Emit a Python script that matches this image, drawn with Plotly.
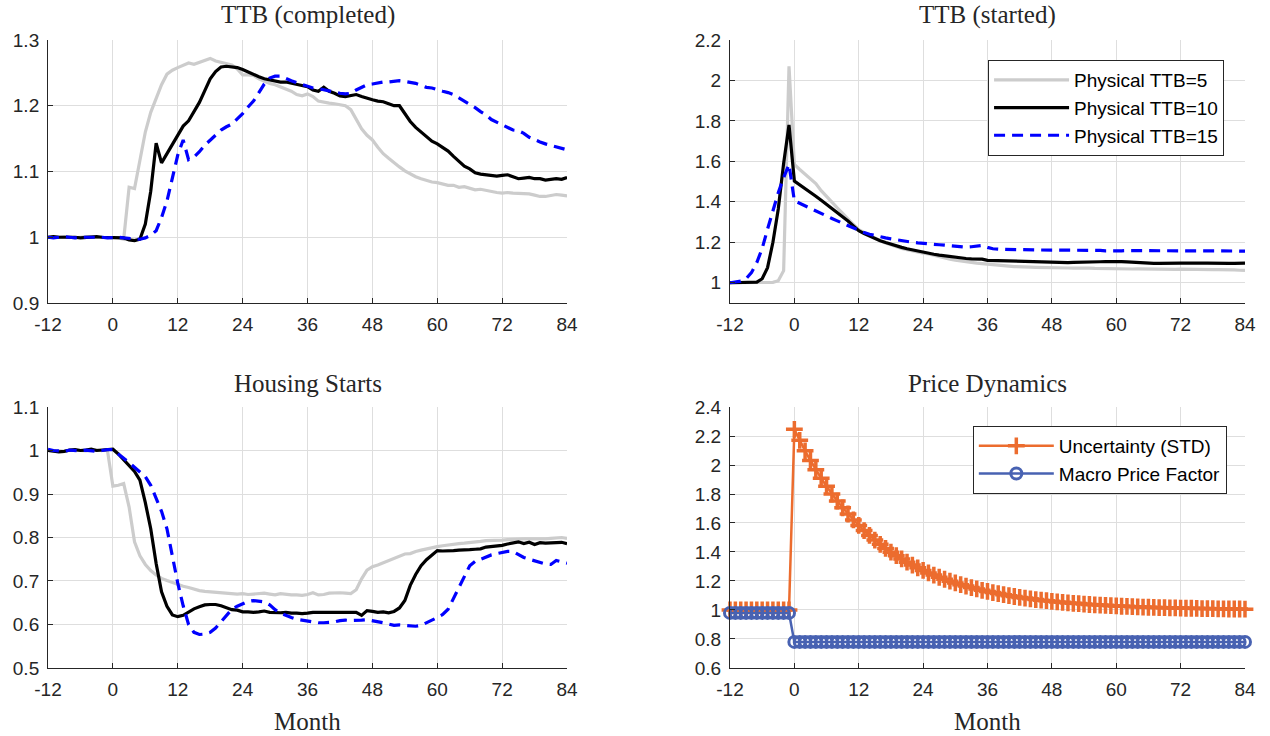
import plotly.graph_objects as go

months = list(range(-12, 85))
x_tick_vals = [-12, 0, 12, 24, 36, 48, 60, 72, 84]
x_tick_text = ["-12", "0", "12", "24", "36", "48", "60", "72", "84"]

# ---- TTB (completed) ----
ttb5_completed = [
    1.000, 1.001, 1.000, 1.001, 1.000, 0.999, 1.000, 1.001, 1.000, 1.000, 0.999, 1.000,
    1.000, 0.999, 0.997, 1.076, 1.074, 1.120, 1.160, 1.190, 1.210, 1.232, 1.248, 1.254,
    1.258, 1.261, 1.265, 1.263, 1.266, 1.269, 1.272, 1.268, 1.266, 1.264, 1.262, 1.256,
    1.247, 1.247, 1.246, 1.241, 1.237, 1.234, 1.232, 1.229, 1.226, 1.222, 1.217, 1.215,
    1.218, 1.214, 1.207, 1.205, 1.204, 1.203, 1.202, 1.200, 1.194, 1.180, 1.165, 1.155,
    1.148, 1.137, 1.127, 1.120, 1.113, 1.107, 1.101, 1.096, 1.092, 1.089, 1.086, 1.084,
    1.083, 1.081, 1.079, 1.079, 1.076, 1.077, 1.074, 1.072, 1.073, 1.071, 1.070, 1.068,
    1.067, 1.068, 1.067, 1.067, 1.066, 1.066, 1.064, 1.062, 1.062, 1.064, 1.065, 1.064,
    1.063]
ttb10_completed = [
    1.000, 1.001, 1.000, 1.000, 1.001, 1.000, 0.999, 1.000, 1.000, 1.001, 1.000, 1.000,
    1.000, 1.000, 0.999, 0.996, 0.995, 0.997, 1.020, 1.070, 1.143, 1.113, 1.127, 1.142,
    1.157, 1.169, 1.177, 1.190, 1.205, 1.223, 1.241, 1.252, 1.259, 1.260, 1.259, 1.258,
    1.255, 1.251, 1.247, 1.244, 1.241, 1.239, 1.237, 1.236, 1.236, 1.234, 1.233, 1.231,
    1.229, 1.224, 1.222, 1.228, 1.222, 1.219, 1.215, 1.214, 1.216, 1.217, 1.214, 1.211,
    1.209, 1.207, 1.206, 1.203, 1.200, 1.200, 1.188, 1.176, 1.167, 1.160, 1.153, 1.146,
    1.142, 1.136, 1.131, 1.123, 1.115, 1.108, 1.104, 1.098, 1.096, 1.095, 1.093, 1.093,
    1.094, 1.095, 1.092, 1.089, 1.090, 1.091, 1.089, 1.089, 1.087, 1.088, 1.089, 1.088,
    1.091]
ttb15_completed = [
    1.000, 0.999, 1.000, 1.001, 1.000, 0.999, 1.000, 1.000, 1.001, 1.000, 1.000, 0.999,
    1.000, 1.000, 0.999, 0.998, 0.997, 0.997, 0.999, 1.003, 1.010, 1.030, 1.055, 1.090,
    1.125, 1.148, 1.118, 1.122, 1.130, 1.140, 1.148, 1.155, 1.163, 1.168, 1.172, 1.180,
    1.188, 1.198, 1.207, 1.220, 1.233, 1.242, 1.245, 1.245, 1.241, 1.238, 1.235, 1.232,
    1.229, 1.227, 1.226, 1.224, 1.223, 1.221, 1.219, 1.218, 1.219, 1.224, 1.228, 1.232,
    1.233, 1.235, 1.236, 1.236, 1.237, 1.238, 1.237, 1.236, 1.234, 1.231, 1.228, 1.227,
    1.224, 1.222, 1.220, 1.217, 1.212, 1.207, 1.203, 1.197, 1.191, 1.186, 1.179, 1.175,
    1.171, 1.167, 1.163, 1.162, 1.158, 1.152, 1.148, 1.145, 1.142, 1.140, 1.137, 1.135,
    1.133]

# ---- TTB (started) ----
ttb5_started = [
    1.000, 1.000, 1.000, 1.000, 1.000, 1.000, 1.001, 1.000, 1.002, 1.010, 1.060, 2.070,
    1.585, 1.560, 1.536, 1.515, 1.490, 1.455, 1.425, 1.395, 1.370, 1.343, 1.318, 1.288,
    1.262, 1.248, 1.232, 1.220, 1.208, 1.197, 1.187, 1.178, 1.170, 1.163, 1.157, 1.150,
    1.146, 1.143, 1.136, 1.128, 1.121, 1.117, 1.112, 1.107, 1.105, 1.101, 1.097, 1.094,
    1.093, 1.089, 1.086, 1.084, 1.082, 1.080, 1.080, 1.078, 1.077, 1.076, 1.076, 1.075,
    1.074, 1.074, 1.073, 1.073, 1.072, 1.073, 1.072, 1.072, 1.071, 1.070, 1.071, 1.070,
    1.070, 1.069, 1.069, 1.068, 1.069, 1.068, 1.068, 1.067, 1.066, 1.067, 1.067, 1.066,
    1.067, 1.066, 1.066, 1.067, 1.066, 1.066, 1.065, 1.065, 1.066, 1.065, 1.064, 1.062,
    1.061]
ttb10_started = [
    1.000, 1.000, 1.000, 1.000, 1.001, 1.003, 1.020, 1.075, 1.200, 1.365, 1.590, 1.780,
    1.503, 1.485, 1.468, 1.448, 1.428, 1.408, 1.388, 1.368, 1.348, 1.327, 1.305, 1.281,
    1.257, 1.243, 1.230, 1.219, 1.208, 1.199, 1.190, 1.182, 1.175, 1.168, 1.162, 1.157,
    1.151, 1.146, 1.141, 1.137, 1.133, 1.130, 1.127, 1.123, 1.120, 1.118, 1.118, 1.117,
    1.111, 1.110, 1.109, 1.108, 1.107, 1.107, 1.106, 1.105, 1.104, 1.103, 1.102, 1.101,
    1.100, 1.099, 1.099, 1.100, 1.101, 1.101, 1.102, 1.102, 1.103, 1.104, 1.105, 1.106,
    1.107, 1.105, 1.103, 1.101, 1.099, 1.098, 1.097, 1.096, 1.096, 1.097, 1.097, 1.096,
    1.097, 1.097, 1.096, 1.096, 1.097, 1.097, 1.096, 1.097, 1.097, 1.096, 1.096, 1.097,
    1.097]
ttb15_started = [
    1.000, 1.003, 1.008, 1.020, 1.050, 1.100, 1.170, 1.265, 1.355, 1.445, 1.520, 1.585,
    1.405, 1.392, 1.380, 1.368, 1.355, 1.342, 1.330, 1.318, 1.306, 1.294, 1.281, 1.268,
    1.257, 1.248, 1.240, 1.233, 1.228, 1.222, 1.217, 1.212, 1.207, 1.203, 1.200, 1.197,
    1.194, 1.192, 1.190, 1.188, 1.186, 1.184, 1.181, 1.178, 1.176, 1.178, 1.183, 1.184,
    1.175, 1.168, 1.166, 1.165, 1.164, 1.164, 1.163, 1.163, 1.163, 1.162, 1.162, 1.162,
    1.162, 1.161, 1.161, 1.161, 1.160, 1.159, 1.159, 1.160, 1.161, 1.160, 1.158, 1.157,
    1.157, 1.158, 1.159, 1.159, 1.159, 1.159, 1.159, 1.159, 1.159, 1.160, 1.159, 1.159,
    1.159, 1.159, 1.159, 1.159, 1.159, 1.158, 1.158, 1.158, 1.157, 1.157, 1.157, 1.156,
    1.156]

# ---- Housing Starts ----
hs5 = [
    1.000, 0.999, 1.000, 0.998, 1.000, 1.001, 1.000, 0.999, 1.000, 1.001, 1.000, 1.000,
    0.918, 0.920, 0.924, 0.870, 0.790, 0.758, 0.738, 0.724, 0.714, 0.706, 0.701, 0.696,
    0.692, 0.688, 0.685, 0.681, 0.678, 0.676, 0.675, 0.675, 0.674, 0.672, 0.671, 0.670,
    0.671, 0.669, 0.670, 0.671, 0.672, 0.670, 0.668, 0.671, 0.669, 0.668, 0.668, 0.667,
    0.669, 0.673, 0.668, 0.669, 0.672, 0.673, 0.673, 0.672, 0.671, 0.680, 0.705, 0.725,
    0.733, 0.737, 0.742, 0.746, 0.752, 0.757, 0.762, 0.763, 0.768, 0.771, 0.774, 0.777,
    0.779, 0.781, 0.783, 0.785, 0.786, 0.787, 0.788, 0.790, 0.791, 0.793, 0.793, 0.794,
    0.794, 0.795, 0.796, 0.797, 0.797, 0.797, 0.797, 0.796, 0.797, 0.798, 0.799, 0.800,
    0.798]
hs10 = [
    1.000, 0.998, 0.997, 0.998, 1.001, 1.002, 1.000, 1.001, 1.003, 1.000, 1.001, 1.002,
    1.003, 0.992, 0.978, 0.966, 0.952, 0.932, 0.880, 0.820, 0.740, 0.675, 0.642, 0.622,
    0.618, 0.621, 0.629, 0.636, 0.641, 0.645, 0.646, 0.646, 0.643, 0.638, 0.634, 0.633,
    0.629, 0.629, 0.628, 0.629, 0.631, 0.628, 0.627, 0.627, 0.628, 0.626, 0.626, 0.625,
    0.626, 0.628, 0.628, 0.628, 0.628, 0.628, 0.628, 0.627, 0.628, 0.628, 0.621, 0.632,
    0.630, 0.628, 0.629, 0.627, 0.630, 0.638, 0.655, 0.690, 0.715, 0.735, 0.749, 0.760,
    0.770, 0.769, 0.769, 0.770, 0.771, 0.771, 0.772, 0.773, 0.774, 0.778, 0.779, 0.780,
    0.782, 0.785, 0.788, 0.790, 0.786, 0.789, 0.784, 0.788, 0.787, 0.788, 0.789, 0.789,
    0.786]
hs15 = [
    1.003, 1.000, 0.999, 0.998, 1.001, 1.000, 0.999, 1.001, 1.000, 0.998, 1.000, 1.002,
    1.002, 0.993, 0.982, 0.972, 0.962, 0.952, 0.940, 0.920, 0.890, 0.860, 0.820, 0.756,
    0.695, 0.643, 0.600, 0.582, 0.577, 0.578, 0.582, 0.592, 0.607, 0.622, 0.635, 0.642,
    0.648, 0.653, 0.655, 0.654, 0.652, 0.645, 0.634, 0.626, 0.620, 0.616, 0.612, 0.610,
    0.608, 0.605, 0.604, 0.604, 0.605, 0.606, 0.609, 0.610, 0.609, 0.609, 0.610, 0.611,
    0.609, 0.607, 0.604, 0.601, 0.598, 0.599, 0.598, 0.597, 0.596, 0.598, 0.603, 0.610,
    0.616, 0.623, 0.635, 0.660, 0.685, 0.710, 0.735, 0.745, 0.750, 0.756, 0.760, 0.763,
    0.765, 0.768, 0.768, 0.760, 0.754, 0.750, 0.746, 0.742, 0.739, 0.738, 0.747, 0.744,
    0.741]

# ---- Price Dynamics ----
uncertainty_std = [
    1.000, 1.000, 1.000, 1.000, 1.000, 1.000, 1.000, 1.000, 1.000, 1.000, 1.000, 1.000,
    2.246, 2.170, 2.098, 2.031, 1.968, 1.908, 1.853, 1.800, 1.751, 1.705, 1.662, 1.621,
    1.583, 1.548, 1.514, 1.482, 1.453, 1.425, 1.399, 1.375, 1.352, 1.330, 1.310, 1.291,
    1.273, 1.256, 1.241, 1.226, 1.212, 1.199, 1.187, 1.175, 1.165, 1.155, 1.145, 1.136,
    1.128, 1.120, 1.113, 1.106, 1.099, 1.093, 1.087, 1.082, 1.077, 1.072, 1.068, 1.064,
    1.060, 1.056, 1.053, 1.049, 1.046, 1.044, 1.041, 1.038, 1.036, 1.034, 1.032, 1.030,
    1.028, 1.026, 1.025, 1.023, 1.022, 1.020, 1.019, 1.018, 1.017, 1.016, 1.015, 1.014,
    1.013, 1.012, 1.012, 1.011, 1.010, 1.010, 1.009, 1.008, 1.008, 1.007, 1.007, 1.007,
    1.006]
macro_price_factor = [
    0.98, 0.98, 0.98, 0.98, 0.98, 0.98, 0.98, 0.98, 0.98, 0.98, 0.98, 0.98,
    0.78, 0.78, 0.78, 0.78, 0.78, 0.78, 0.78, 0.78, 0.78, 0.78, 0.78, 0.78,
    0.78, 0.78, 0.78, 0.78, 0.78, 0.78, 0.78, 0.78, 0.78, 0.78, 0.78, 0.78,
    0.78, 0.78, 0.78, 0.78, 0.78, 0.78, 0.78, 0.78, 0.78, 0.78, 0.78, 0.78,
    0.78, 0.78, 0.78, 0.78, 0.78, 0.78, 0.78, 0.78, 0.78, 0.78, 0.78, 0.78,
    0.78, 0.78, 0.78, 0.78, 0.78, 0.78, 0.78, 0.78, 0.78, 0.78, 0.78, 0.78,
    0.78, 0.78, 0.78, 0.78, 0.78, 0.78, 0.78, 0.78, 0.78, 0.78, 0.78, 0.78,
    0.78, 0.78, 0.78, 0.78, 0.78, 0.78, 0.78, 0.78, 0.78, 0.78, 0.78, 0.78,
    0.78]

series_names = ["Physical TTB=5", "Physical TTB=10", "Physical TTB=15"]
price_names = ["Uncertainty (STD)", "Macro Price Factor"]
titles = ["TTB (completed)", "TTB (started)", "Housing Starts", "Price Dynamics"]

GRAY = "rgb(204,204,204)"
BLACK = "rgb(0,0,0)"
BLUE = "rgb(0,0,255)"
ORANGE = "rgb(236,108,46)"
STEEL = "rgb(72,98,178)"
styles = [dict(color=GRAY, width=3.2, dash="solid"),
          dict(color=BLACK, width=3.2, dash="solid"),
          dict(color=BLUE, width=3.2, dash="11px,7px")]

fig = go.Figure()

panels = [
    ([ttb5_completed, ttb10_completed, ttb15_completed], "x", "y", False),
    ([ttb5_started, ttb10_started, ttb15_started], "x2", "y2", True),
    ([hs5, hs10, hs15], "x3", "y3", False),
]
for data, xa, ya, show in panels:
    for vals, name, st in zip(data, series_names, styles):
        fig.add_trace(go.Scatter(x=months, y=vals, xaxis=xa, yaxis=ya, mode="lines",
                                 name=name, line=st, showlegend=show, legend="legend"))

fig.add_trace(go.Scatter(
    x=months, y=uncertainty_std, xaxis="x4", yaxis="y4", mode="lines+markers",
    name=price_names[0], line=dict(color=ORANGE, width=2.5),
    marker=dict(symbol="cross-thin", size=12, color=ORANGE, line=dict(color=ORANGE, width=3.5)),
    cliponaxis=False, legend="legend2"))
fig.add_trace(go.Scatter(
    x=months, y=macro_price_factor, xaxis="x4", yaxis="y4", mode="lines+markers",
    name=price_names[1], line=dict(color=STEEL, width=2.5),
    marker=dict(symbol="circle-open", size=11, color=STEEL, line=dict(color=STEEL, width=3)),
    cliponaxis=False, legend="legend2"))

tick_font = dict(family="Liberation Sans, Arial, sans-serif", size=19, color="#262626")
def ax(**kw):
    d = dict(showline=True, linecolor="#262626", linewidth=1, ticks="inside", ticklen=5,
             tickcolor="#262626", tickwidth=1, showgrid=True, gridcolor="#dedede", gridwidth=1,
             zeroline=False, tickfont=tick_font, fixedrange=True, automargin=False)
    d.update(kw)
    return d

left_dom = [0.0378, 0.4465]
right_dom = [0.5748, 0.9803]
top_dom = [0.5883, 0.9457]
bot_dom = [0.0924, 0.4470]

xkw = dict(range=[-12, 84], tickvals=x_tick_vals, ticktext=x_tick_text, ticklabelstandoff=4)

y1_vals = [0.9, 1.0, 1.1, 1.2, 1.3]
y1_text = ["0.9", "1", "1.1", "1.2", "1.3"]
y2_vals = [1.0, 1.2, 1.4, 1.6, 1.8, 2.0, 2.2]
y2_text = ["1", "1.2", "1.4", "1.6", "1.8", "2", "2.2"]
y3_vals = [0.5, 0.6, 0.7, 0.8, 0.9, 1.0, 1.1]
y3_text = ["0.5", "0.6", "0.7", "0.8", "0.9", "1", "1.1"]
y4_vals = [0.6, 0.8, 1.0, 1.2, 1.4, 1.6, 1.8, 2.0, 2.2, 2.4]
y4_text = ["0.6", "0.8", "1", "1.2", "1.4", "1.6", "1.8", "2", "2.2", "2.4"]

legend_font = dict(family="Liberation Sans, Arial, sans-serif", size=19, color="black")

fig.update_layout(
    width=1270, height=736,
    margin=dict(l=0, r=0, t=0, b=0, autoexpand=False),
    paper_bgcolor="white", plot_bgcolor="white",
    xaxis=ax(domain=left_dom, anchor="y", **xkw),
    yaxis=ax(domain=top_dom, anchor="x", range=[0.9, 1.3], tickvals=y1_vals, ticktext=y1_text, ticklabelstandoff=4),
    xaxis2=ax(domain=right_dom, anchor="y2", **xkw),
    yaxis2=ax(domain=top_dom, anchor="x2", range=[0.9, 2.2], tickvals=y2_vals, ticktext=y2_text, ticklabelstandoff=4),
    xaxis3=ax(domain=left_dom, anchor="y3", **xkw),
    yaxis3=ax(domain=bot_dom, anchor="x3", range=[0.5, 1.1], tickvals=y3_vals, ticktext=y3_text, ticklabelstandoff=4),
    xaxis4=ax(domain=right_dom, anchor="y4", **xkw),
    yaxis4=ax(domain=bot_dom, anchor="x4", range=[0.6, 2.4], tickvals=y4_vals, ticktext=y4_text, ticklabelstandoff=4),
    legend=dict(x=0.778, y=0.9185, xanchor="left", yanchor="top", bgcolor="white",
                bordercolor="#262626", borderwidth=1, itemwidth=75,
                font=legend_font, tracegroupgap=0),
    legend2=dict(x=0.766, y=0.4212, xanchor="left", yanchor="top", bgcolor="white",
                 bordercolor="#262626", borderwidth=1, itemwidth=75,
                 font=legend_font),
    showlegend=True,
)

title_font = dict(family="Liberation Serif, Times New Roman, serif", size=25, color="#262626")
cx_left = (left_dom[0] + left_dom[1]) / 2
cx_right = (right_dom[0] + right_dom[1]) / 2
for text, cx, cy in [(titles[0], cx_left, 0.9796), (titles[1], cx_right, 0.9796),
                     (titles[2], cx_left, 0.4796), (titles[3], cx_right, 0.4796),
                     ("Month", cx_left, 0.0200), ("Month", cx_right, 0.0200)]:
    fig.add_annotation(text=text, x=cx, y=cy, xref="paper", yref="paper",
                       xanchor="center", yanchor="middle", showarrow=False, font=title_font)

fig.write_html("out.html")
